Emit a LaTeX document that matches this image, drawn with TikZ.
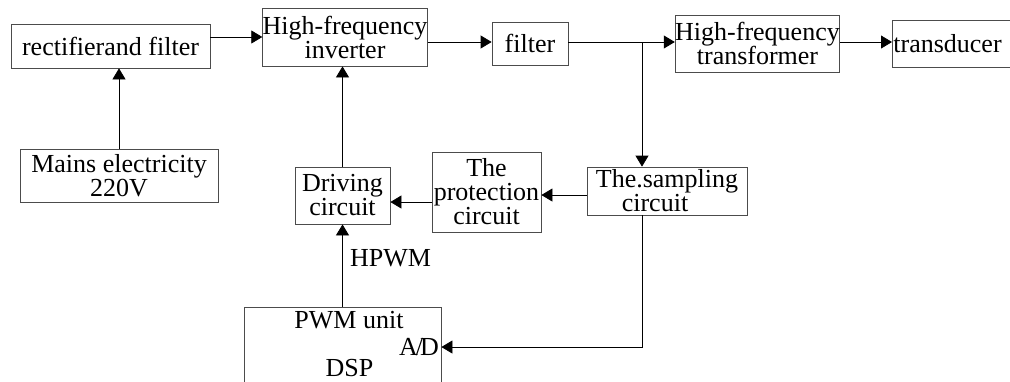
\documentclass[tikz,border=0pt]{standalone}
\usepackage{fontspec}
\setmainfont{Liberation Serif}
\usetikzlibrary{arrows.meta, positioning, calc}

\begin{document}
\begin{tikzpicture}[
    x=1pt, y=-1pt,
    every node/.style={font=\fontsize{26}{24}\selectfont, inner sep=0pt, align=center},
    box/.style={draw=black!70, line width=0.8pt},
    edge/.style={-{Triangle[length=11pt,width=13pt]}, line width=0.8pt}
]
\useasboundingbox (0,0) rectangle (1010,381);
% top row
\node[box, minimum width=199, minimum height=44] (rect) at (110.5,46) {rectifierand filter};
\node[box, minimum width=162, minimum height=58] (inv) at (345,37) {High-frequency\\inverter};
\node[box, minimum width=76, minimum height=43] (filt) at (530,43.5) {filter};
\node[box, minimum width=157, minimum height=57] (xfmr) at (757.5,43.5) {High-frequency\\transformer};
\node[box, anchor=west, minimum height=47, inner xsep=1pt] (trans) at (892,43.5) {transducer\hspace*{20pt}};
% lower part
\node[box, minimum width=198, minimum height=53] (mains) at (119,175.5) {Mains electricity\\220V};
\node[box, minimum width=95, minimum height=57] (drive) at (342.5,195.5) {Driving\\circuit};
\node[box, minimum width=109, minimum height=80] (prot) at (486.5,192) {The\\protection\\circuit};
\node[box, minimum width=160, minimum height=48] (samp) at (667,191) {The.sampling\\circuit\hspace*{24pt}};
\node[box, minimum width=197, minimum height=78] (pwm) at (342.5,346) {};
\node (pwmtxt) at (349,320) {PWM unit};
\node (ad) at (419,347) {A\kern-2pt/\kern-3pt D};
\node (dsp) at (349.5,368) {DSP};
\node[anchor=west] (hpwm) at (350,258) {HPWM};
% connectors
\coordinate (row) at (0,42);
\coordinate (tap) at (642,42);
\coordinate (sp) at (0,195);
\coordinate (pd) at (0,202);
\draw[edge] (rect.east |- inv.west) -- (inv.west);
\draw[edge] (inv.east |- row) -- (filt.west |- row);
\draw[edge] (filt.east |- row) -- (xfmr.west |- row);
\draw[edge] (xfmr.east |- row) -- (trans.west |- row);
\draw[edge] (tap) -- (tap |- samp.north);
\draw[edge] (mains.north) -- (mains.north |- rect.south);
\draw[edge] (drive.north) -- (drive.north |- inv.south);
\draw[edge] (pwm.north) -- (drive.south);
\draw[edge] (samp.west |- sp) -- (prot.east |- sp);
\draw[edge] (prot.west |- pd) -- (drive.east |- pd);
\draw[edge] (tap |- samp.south) |- (pwm.east |- ad);
\end{tikzpicture}
\end{document}
